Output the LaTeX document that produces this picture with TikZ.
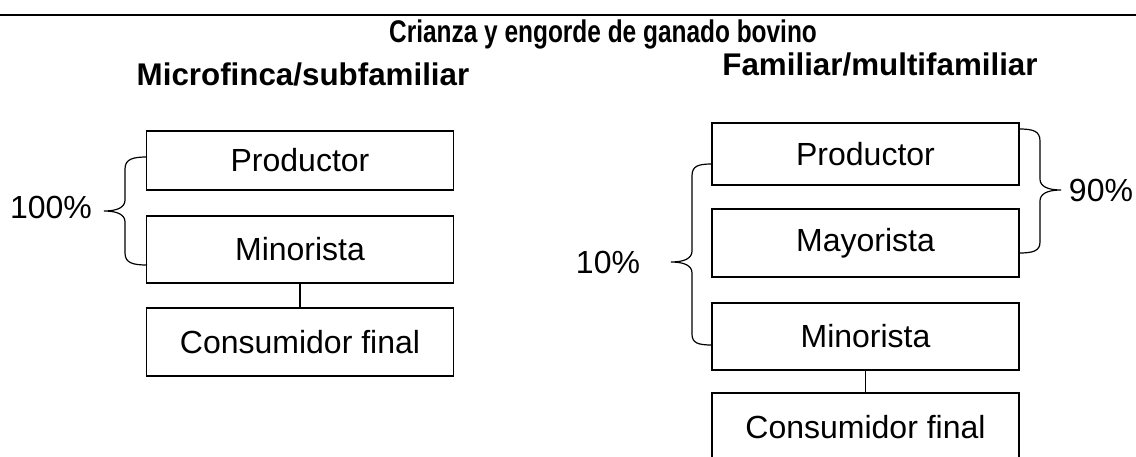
\documentclass[tikz,border=0pt]{standalone}
\usepackage{fontspec}
\setmainfont{Liberation Sans}
\newfontfamily\narrowsans[FakeStretch=0.78]{Liberation Sans}
\usepackage{tikz}
\usetikzlibrary{positioning}

\tikzset{
  actor/.style={draw, line width=1pt, rectangle, minimum width=230.25pt, inner sep=0pt, font=\fontsize{24}{28}\selectfont},
  pct/.style={inner sep=0pt, font=\fontsize{24}{28}\selectfont},
  head/.style={inner sep=0pt, font=\fontsize{23.5}{28}\selectfont\bfseries},
  brace/.style={line width=0.9pt}
}

\begin{document}
\begin{tikzpicture}[x=0.75pt,y=0.75pt,yscale=-1,xscale=1]
\useasboundingbox (0,0) rectangle (1136,457);
\clip (0,0) rectangle (1136,457);

%Straight Lines: top rule
\draw [line width=1pt] (0,15) -- (1136,15) ;

% Text Node
\node [inner sep=0pt, font=\narrowsans\bfseries\fontsize{23.5}{28}\selectfont] (title) at (603,34) {Crianza y engorde de ganado bovino};
% Text Node
\node [head] (micro) at (303,74) {Microfinca/subfamiliar};
% Text Node
\node [head] (famil) at (880,64) {Familiar/multifamiliar};

%Shape: left column
\node [actor, minimum height=44.25pt] (lprod) at (300,160.5) {Productor};
\node [actor, minimum height=50.25pt] (lmin) at (300,249.5) {Minorista};
\node [actor, minimum height=51pt] (lcons) at (300,342) {Consumidor final};
\draw [line width=1pt] (lmin) -- (lcons) ;

%Shape: right column
\node [actor, minimum height=46.5pt] (rprod) at (865.5,154) {Productor};
\node [actor, minimum height=51pt] (rmay) at (865.5,243) {Mayorista};
\node [actor, minimum height=50.25pt] (rmin) at (865.5,336.5) {Minorista};
\node [actor, minimum height=51pt] (rcons) at (865.5,427) {Consumidor final};
\draw [line width=1pt] (rmin) -- (rcons) ;

%Brace: 100%
\draw [brace] (147,157) .. controls (133,157) and (125,159) .. (125,169) -- (125,200) .. controls (125,207) and (118,211) .. (104,211) .. controls (118,211) and (125,215) .. (125,222) -- (125,253) .. controls (125,263) and (133,265) .. (147,265) ;
% Text Node
\node [pct] (p100) at (51,207) {100\%};

%Brace: 10%
\draw [brace] (712,164) .. controls (698,164) and (692,166) .. (692,176) -- (692,251) .. controls (692,258) and (685,262) .. (671,262) .. controls (685,262) and (692,266) .. (692,273) -- (692,334) .. controls (692,343) and (698,345) .. (712,345) ;
% Text Node
\node [pct] (p10) at (608,262) {10\%};

%Brace: 90%
\draw [brace] (1019,129) .. controls (1033,129) and (1040,131) .. (1040,141) -- (1040,179) .. controls (1040,186) and (1047,190) .. (1061,190) .. controls (1047,190) and (1040,194) .. (1040,201) -- (1040,242) .. controls (1040,251) and (1033,253) .. (1019,253) ;
% Text Node
\node [pct] (p90) at (1101,190) {90\%};

\end{tikzpicture}
\end{document}
